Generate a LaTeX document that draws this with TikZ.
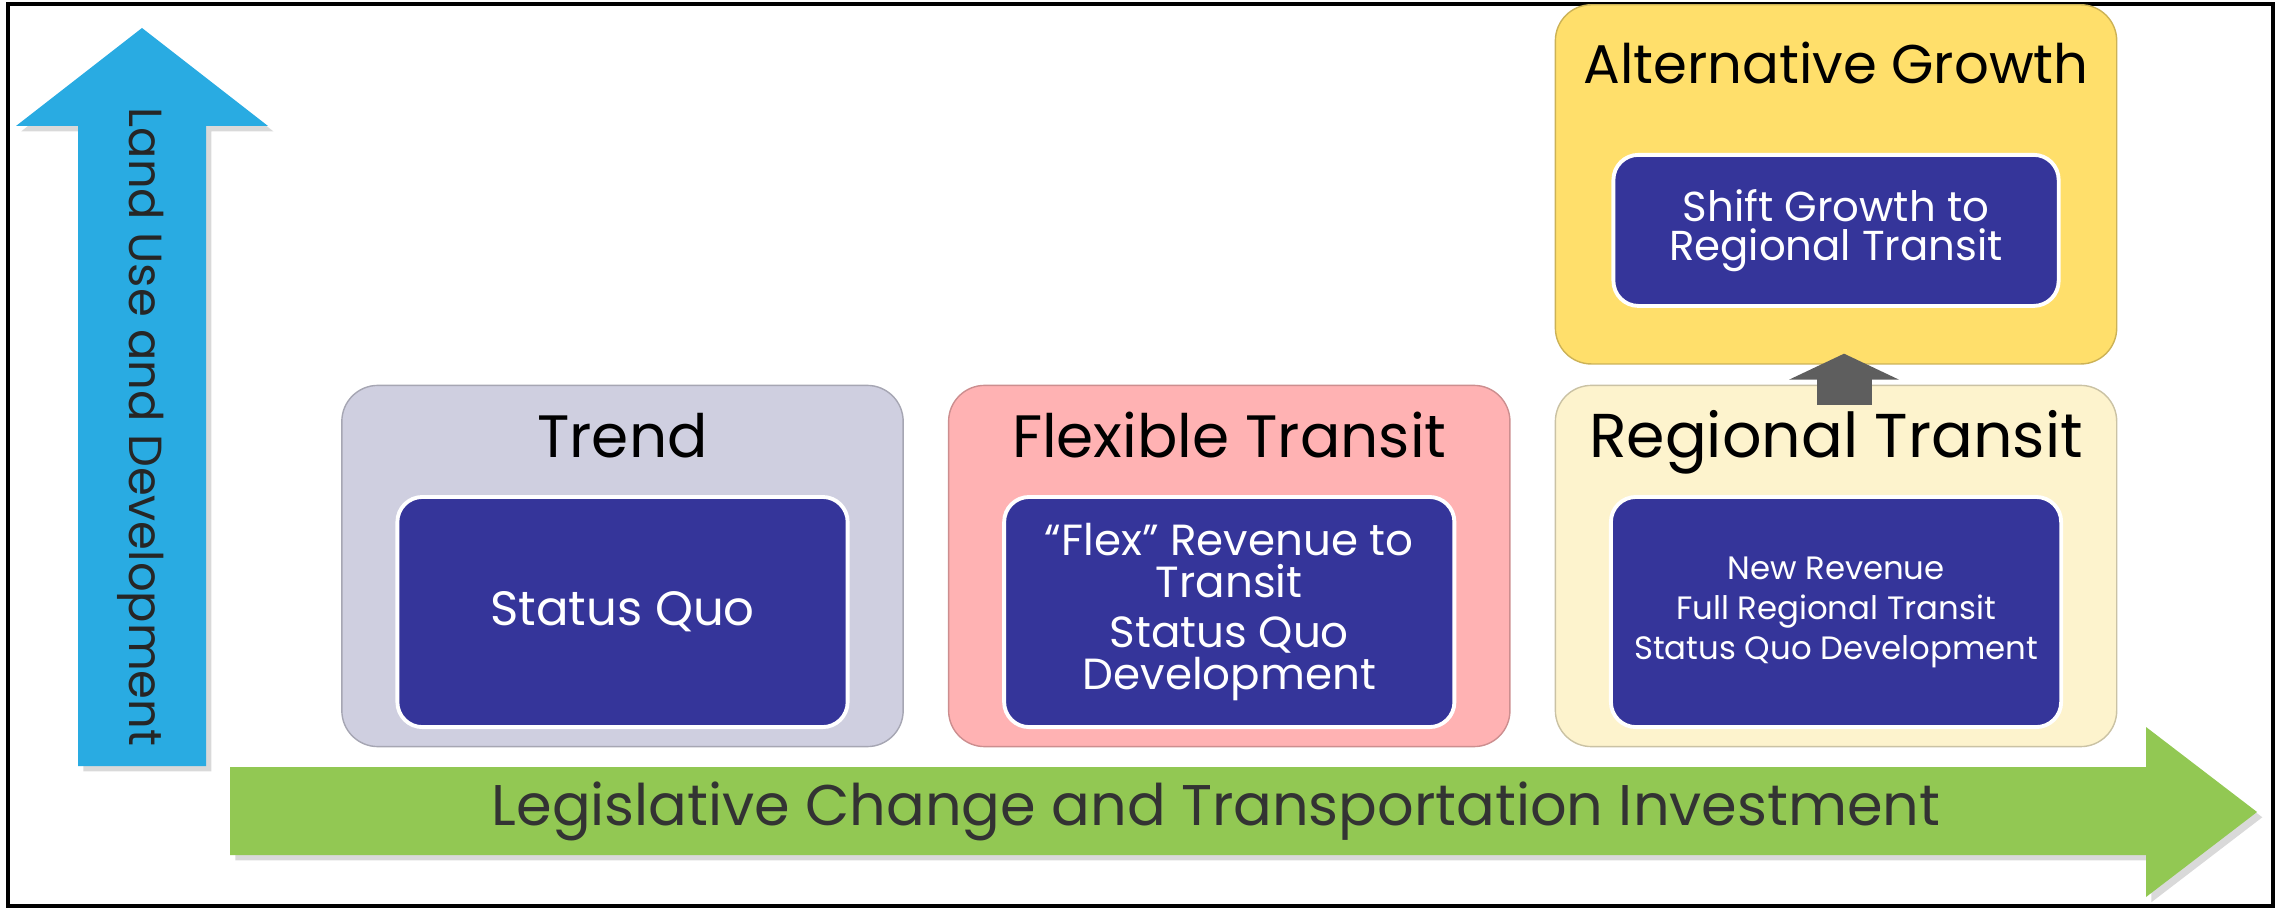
\documentclass[tikz,border=0pt]{standalone}
\usepackage{fontspec}
\setmainfont{Poppins}
\usetikzlibrary{positioning,shadows,arrows.meta}

\definecolor{landblue}{HTML}{29ABE2}
\definecolor{lawgreen}{HTML}{92C853}
\definecolor{trendgray}{HTML}{CFCFE0}
\definecolor{flexpink}{HTML}{FFB2B3}
\definecolor{regcream}{HTML}{FDF3CD}
\definecolor{altyellow}{HTML}{FFDF6B}
\definecolor{navy}{HTML}{35359A}
\definecolor{stepgray}{HTML}{5E5E5E}

\begin{document}
\begin{tikzpicture}[x=0.01cm, y=-0.01cm,
	scenario/.style={draw=#1!80!black, line width=0.4pt, fill=#1, rounded corners=0.36cm,
		minimum width=5.61cm, minimum height=3.61cm, inner sep=0pt},
	measure/.style={draw=white, line width=1.1pt, fill=navy, rounded corners=0.25cm, text=white,
		align=center, minimum width=4.5cm, minimum height=2.3cm, inner sep=0pt},
	heading/.style={anchor=base, font=\fontsize{17}{20}\selectfont},
	axisarrow/.style={draw=none, fill=#1, drop shadow={opacity=0.3, shadow xshift=1.5pt, shadow yshift=-1.5pt}},
	steparrow/.style={draw=stepgray, line width=0.55cm, -{Triangle[width=1.09cm, length=0.26cm]}}]

	\useasboundingbox (0,0) rectangle (2280,910);
	\draw[line width=1pt] (8,4) rectangle (2273,906);

	% axes
	\path[axisarrow=landblue] (78,766) -- (78,126) -- (16,126) -- (142,28) -- (268,126) -- (206,126) -- (206,766) -- cycle;
	\path[axisarrow=lawgreen] (230,767) -- (2146,767) -- (2146,727) -- (2257,812) -- (2146,897) -- (2146,855) -- (230,855) -- cycle;
	\node[rotate=-90, text=black!85, font=\fontsize{13.2}{16}\selectfont] (landlabel) at (141,427) {Land Use and Development};
	\node[text=black!80, font=\fontsize{16.3}{18}\selectfont] (lawlabel) at (1216,811) {Legislative Change and Transportation Investment};

	% scenarios
	\node[scenario=trendgray] (trend) at (622.5,566) {};
	\node[scenario=flexpink, right=0.44cm of trend] (flex) {};
	\node[scenario=regcream, right=0.44cm of flex] (regional) {};
	\node[scenario=altyellow, above=0.2cm of regional, minimum height=3.59cm] (alt) {};

	\node[heading] at ([yshift=-0.73cm]trend.north) {Trend};
	\node[heading] at ([yshift=-0.73cm]flex.north) {Flexible Transit};
	\node[heading, font=\fontsize{17.6}{20}\selectfont] at ([yshift=-0.73cm]regional.north) {Regional Transit};
	\node[heading, font=\fontsize{15.5}{18}\selectfont] at ([yshift=-0.79cm]alt.north) {Alternative Growth};

	\node[measure, font=\fontsize{13.7}{16}\selectfont] (trendmeasure) at ([yshift=-0.46cm]trend.center)
		{Status Quo};
	\node[measure, font=\fontsize{12.4}{11.9}\selectfont] (flexmeasure) at ([yshift=-0.46cm]flex.center)
		{``Flex'' Revenue to\\Transit\\[2.5pt]Status Quo\\Development};
	\node[measure, font=\fontsize{9.2}{11.4}\selectfont] (regionalmeasure) at ([yshift=-0.46cm]regional.center)
		{New Revenue\\Full Regional Transit\\Status Quo Development};
	\node[measure, minimum width=4.45cm, minimum height=1.51cm, font=\fontsize{11.9}{11.2}\selectfont] (altmeasure) at ([yshift=-0.46cm]alt.center)
		{Shift Growth to\\Regional Transit};

	\draw[steparrow] ([xshift=0.08cm, yshift=-0.2cm]regional.north) -- ([xshift=0.08cm, yshift=0.11cm]alt.south);
\end{tikzpicture}
\end{document}
